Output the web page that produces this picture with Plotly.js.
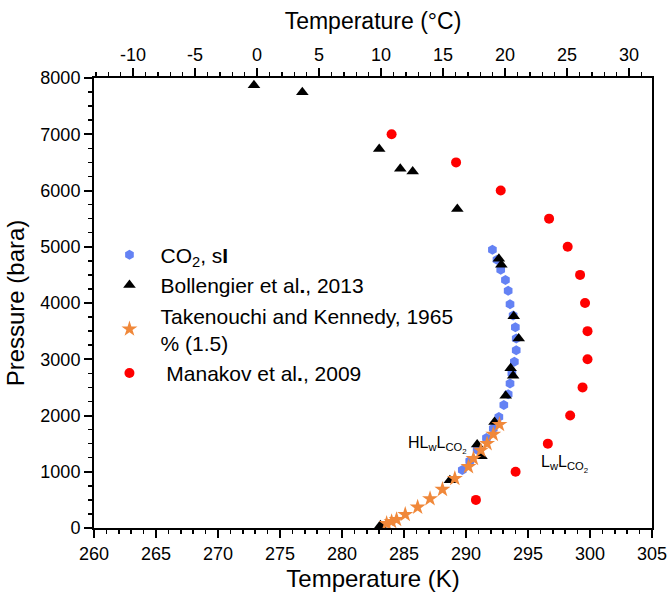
<!DOCTYPE html>
<html>
<head>
<meta charset="utf-8">
<script src="https://cdn.plot.ly/plotly-3.0.1.min.js"></script>
<style>
  html, body { margin: 0; padding: 0; background: #fff; }
  #chart { width: 670px; height: 600px; }
</style>
</head>
<body>
<div id="chart"></div>
<script>
// CO2 hydrate (structure I) dissociation line
const co2SI_T = [289.7, 290.3, 290.9, 291.65, 292.2, 292.65, 293.05, 293.4, 293.55, 293.7, 293.9, 294.05, 294.05, 293.98, 293.8, 293.55, 293.4, 293.18, 292.8, 292.5, 292.13];
const co2SI_P = [1030, 1190, 1390, 1600, 1770, 1975, 2185, 2380, 2570, 2750, 2955, 3160, 3370, 3570, 3780, 3980, 4220, 4410, 4590, 4770, 4945];

// Bollengier et al., 2013
const bollengier_T = [272.9, 276.8, 283.0, 284.7, 285.7, 289.3, 292.65, 292.85, 293.85, 294.25, 293.6, 293.8, 293.2, 292.3, 290.9, 291.25, 288.7, 283.1];
const bollengier_P = [7870, 7745, 6740, 6385, 6340, 5670, 4785, 4680, 3765, 3370, 2840, 2705, 2350, 1885, 1485, 1275, 850, 50];

// Takenouchi and Kennedy, 1965
const takenouchi_T = [283.6, 284.0, 284.4, 285.1, 286.1, 287.1, 288.1, 289.1, 290.2, 290.6, 291.2, 291.7, 292.2, 292.7];
const takenouchi_P = [80, 115, 150, 240, 370, 520, 685, 880, 1090, 1235, 1380, 1500, 1665, 1840];

// Manakov et al., 2009
const manakov_T = [284.0, 289.2, 292.8, 296.7, 298.2, 299.2, 299.6, 299.8, 299.8, 299.4, 298.4, 296.6, 294.0, 290.8];
const manakov_P = [7000, 6500, 6000, 5500, 5000, 4500, 4000, 3500, 3000, 2500, 2000, 1500, 1000, 500];

// Axis ranges (K) and the matching Celsius scale on top
const T_RANGE = [260, 305];
const KELVIN_OFFSET = 273.15;
const P_RANGE = [0, 8000];
const celsiusTicks = [-10, -5, 0, 5, 10, 15, 20, 25, 30];
const celsiusLabels = ['-10', '-5', '0', '5', '10', '15', '20', '25', '30'];

const FONT = 'Liberation Sans, Arial, sans-serif';

const traces = [
  {
    x: co2SI_T, y: co2SI_P, type: 'scatter', mode: 'markers',
    name: 'CO<sub>2</sub>, s<b>I</b>',
    marker: { symbol: 'hexagon', size: 10, color: '#6482F4' }
  },
  {
    x: bollengier_T, y: bollengier_P, type: 'scatter', mode: 'markers',
    name: 'Bollengier et al<b>.</b>, 2013',
    marker: { symbol: 'triangle-up', size: 11, color: '#000000' }
  },
  {
    x: takenouchi_T, y: takenouchi_P, type: 'scatter', mode: 'markers',
    name: 'Takenouchi and Kennedy, 1965<br>% (1.5)',
    marker: { symbol: 'star', size: 12, color: '#F0883A' }
  },
  {
    x: manakov_T, y: manakov_P, type: 'scatter', mode: 'markers',
    name: ' Manakov et al<b>.</b>, 2009',
    marker: { symbol: 'circle', size: 10, color: '#FF0000' }
  },
  {
    // carries the Celsius axis on top
    x: [null], y: [null], xaxis: 'x2', yaxis: 'y', type: 'scatter', mode: 'markers',
    showlegend: false, hoverinfo: 'skip'
  }
];

const axisCommon = {
  showline: true, linewidth: 2, linecolor: '#000',
  ticks: 'outside', ticklen: 8, tickwidth: 2, tickcolor: '#000',
  showgrid: false, zeroline: false,
  tickfont: { family: FONT, size: 18, color: '#000' }
};
const minorTicks = (d) => ({ dtick: d, ticks: 'outside', ticklen: 4, tickwidth: 1.5, tickcolor: '#000' });

const layout = {
  width: 670, height: 600,
  margin: { l: 94, r: 18, t: 78, b: 72 },
  paper_bgcolor: '#fff', plot_bgcolor: '#fff',
  font: { family: FONT, color: '#000' },
  showlegend: true,
  legend: {
    x: 0.008, y: 0.652, xanchor: 'left', yanchor: 'top',
    itemwidth: 52,
    bgcolor: 'rgba(0,0,0,0)', borderwidth: 0,
    font: { family: FONT, size: 21, color: '#000' }
  },
  xaxis: Object.assign({}, axisCommon, {
    range: T_RANGE, tick0: 260, dtick: 5,
    minor: minorTicks(1),
    title: { text: 'Temperature (K)', font: { family: FONT, size: 24 }, standoff: 8 }
  }),
  xaxis2: Object.assign({}, axisCommon, {
    overlaying: 'x', side: 'top', anchor: 'y',
    range: [T_RANGE[0] - KELVIN_OFFSET, T_RANGE[1] - KELVIN_OFFSET],
    tickmode: 'array', tickvals: celsiusTicks, ticktext: celsiusLabels,
    minor: { tickmode: 'linear', tick0: 0, dtick: 1, ticks: 'outside', ticklen: 4, tickwidth: 1.5, tickcolor: '#000' },
    title: { text: 'Temperature (°C)', font: { family: FONT, size: 23 }, standoff: 9 }
  }),
  yaxis: Object.assign({}, axisCommon, {
    range: P_RANGE, tick0: 0, dtick: 1000, mirror: true,
    minor: minorTicks(250),
    title: { text: 'Pressure (bara)', font: { family: FONT, size: 24 }, standoff: 9 }
  }),
  annotations: [
    {
      xref: 'x', yref: 'y', x: 285.2, y: 1480, xanchor: 'left', yanchor: 'middle',
      text: 'HL<sub>w</sub>L<sub>CO<sub>2</sub></sub>', showarrow: false,
      font: { family: FONT, size: 16, color: '#000' }
    },
    {
      xref: 'x', yref: 'y', x: 295.9, y: 1130, xanchor: 'left', yanchor: 'middle',
      text: 'L<sub>w</sub>L<sub>CO<sub>2</sub></sub>', showarrow: false,
      font: { family: FONT, size: 16, color: '#000' }
    }
  ]
};

Plotly.newPlot('chart', traces, layout, { displayModeBar: false, staticPlot: true });
</script>
</body>
</html>
